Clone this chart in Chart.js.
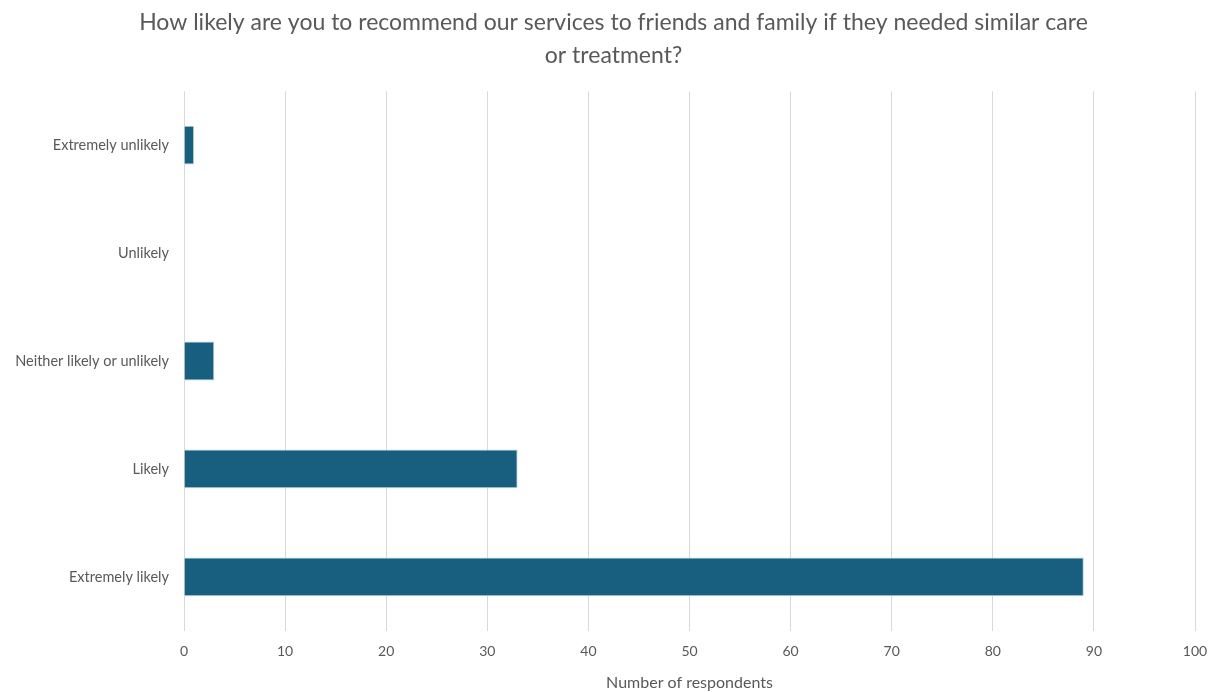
<!DOCTYPE html>
<html lang="en">
<head>
    <meta charset="UTF-8">
    <title>Recommendation Survey</title>
    <script src="https://cdn.jsdelivr.net/npm/chart.js@4.4.1/dist/chart.umd.js"></script>
    <style>
        html, body { margin: 0; padding: 0; background: #ffffff; }
        #wrap { width: 1217px; height: 692px; }
    </style>
</head>
<body>
    <div id="wrap"><canvas id="surveyChart"></canvas></div>

    <script>
        // Survey responses, top to bottom as shown on the axis
        const answers = ['Extremely unlikely', 'Unlikely', 'Neither likely or unlikely', 'Likely', 'Extremely likely'];
        const respondents = [1, 0, 3, 33, 89];
        const xTicks = [0, 10, 20, 30, 40, 50, 60, 70, 80, 90, 100];

        const titleLines = [
            'How likely are you to recommend our services to friends and family if they needed similar care',
            'or treatment?'
        ];

        const grey = '#595959';
        const fontFamily = 'Lato, "Open Sans", sans-serif';

        const ctx = document.getElementById('surveyChart').getContext('2d');
        new Chart(ctx, {
            type: 'bar',
            data: {
                labels: answers,
                datasets: [{
                    label: 'Number of respondents',
                    data: respondents,
                    backgroundColor: '#175e7f',
                    borderColor: '#b9d0dc',
                    borderWidth: 1,
                    barPercentage: 0.9,
                    categoryPercentage: 0.4
                }]
            },
            options: {
                indexAxis: 'y',
                responsive: true,
                maintainAspectRatio: false,
                animation: false,
                layout: {
                    padding: { left: 10, right: 0, top: 0, bottom: 0 }
                },
                plugins: {
                    legend: { display: false },
                    tooltip: { enabled: false },
                    title: {
                        display: true,
                        text: titleLines,
                        color: grey,
                        font: { family: fontFamily, size: 23, weight: 'normal', lineHeight: 1.44 },
                        padding: { top: 6, bottom: 19 }
                    }
                },
                scales: {
                    x: {
                        min: 0,
                        max: 100,
                        afterBuildTicks: (axis) => {
                            axis.ticks = xTicks.map(v => ({ value: v }));
                        },
                        // fixed room on the right for the "100" label
                        afterFit: (axis) => {
                            axis.paddingRight = 22;
                            axis.paddingLeft = 0;
                        },
                        grid: { color: '#d9d9d9', drawTicks: false },
                        border: { display: false },
                        ticks: {
                            color: grey,
                            padding: 14,
                            font: { family: fontFamily, size: 14, lineHeight: 1 }
                        },
                        title: {
                            display: true,
                            text: 'Number of respondents',
                            color: grey,
                            font: { family: fontFamily, size: 16 },
                            padding: { top: 0, bottom: 0 }
                        }
                    },
                    y: {
                        grid: { display: false, drawTicks: false },
                        border: { display: false },
                        ticks: {
                            color: grey,
                            padding: 15,
                            font: { family: fontFamily, size: 14.5 }
                        },
                        afterFit: (axis) => {
                            axis.width = 174;
                        }
                    }
                }
            }
        });
    </script>
</body>
</html>
